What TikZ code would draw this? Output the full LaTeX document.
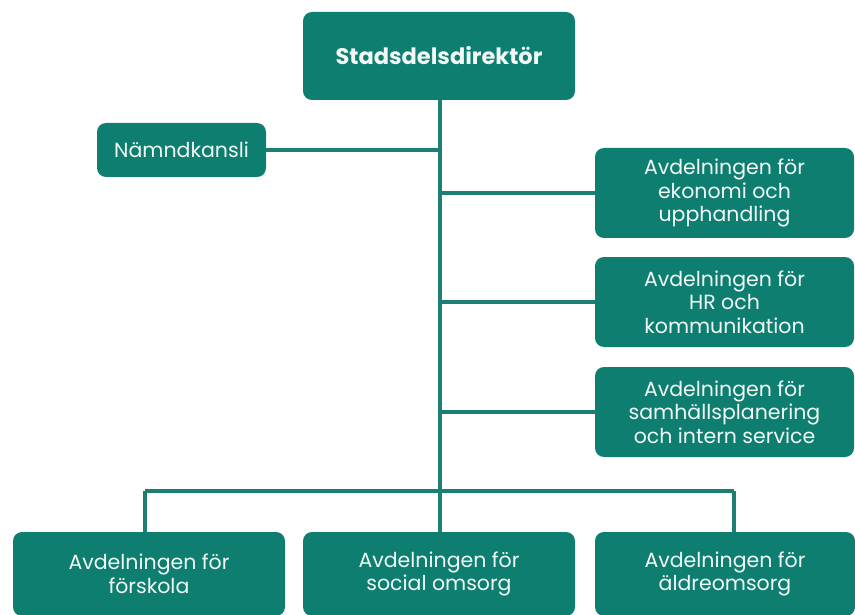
\documentclass[tikz,border=0pt]{standalone}
\usepackage{fontspec}
\setmainfont{Poppins}
\definecolor{boxteal}{HTML}{0E7E70}
\definecolor{lineteal}{HTML}{1B7F73}
\definecolor{txt}{HTML}{F2F8F6}
\begin{document}
\begin{tikzpicture}[x=1pt,y=-1pt,
  orgbox/.style={rectangle, rounded corners=9pt, fill=boxteal, text=txt, align=center,
    font=\fontsize{20.5}{23.5}\selectfont, inner sep=0pt},
  conn/.style={draw=lineteal, line width=3.2pt}]
\useasboundingbox (0,0) rectangle (855,615);
\node[orgbox, minimum width=272pt, minimum height=88pt, font=\fontsize{22.5}{26}\selectfont\bfseries] (top) at (439,56) {Stadsdelsdirektör};
\node[orgbox, minimum width=169pt, minimum height=54pt] (namnd) at (181.5,150) {Nämndkansli};
\node[orgbox, minimum width=259pt, minimum height=90pt] (r1) at (724.5,193) {Avdelningen för\\ekonomi och\\upphandling};
\node[orgbox, minimum width=259pt, minimum height=90pt] (r2) at (724.5,302) {Avdelningen för\\HR och\\kommunikation};
\node[orgbox, minimum width=259pt, minimum height=90pt] (r3) at (724.5,412) {Avdelningen för\\samhällsplanering\\och intern service};
\node[orgbox, minimum width=272pt, minimum height=84pt] (b1) at (149,574) {Avdelningen för\\förskola};
\node[orgbox, minimum width=272pt, minimum height=84pt] (b2) at (439,574) {Avdelningen för\\social omsorg};
\node[orgbox, minimum width=260pt, minimum height=84pt] (b3) at (725,574) {Avdelningen för\\äldreomsorg};
\coordinate (cL) at (145,491);
\coordinate (cM) at (440,491);
\coordinate (cR) at (734,491);
\begin{scope}[on background layer/.try]
\draw[conn] (top.south -| cM) -- (b2.north -| cM);
\draw[conn] (namnd.east) -- (namnd.east -| cM);
\draw[conn] (r1.west) -- (r1.west -| cM);
\draw[conn] (r2.west) -- (r2.west -| cM);
\draw[conn] (r3.west) -- (r3.west -| cM);
\draw[conn] (cL) -- (cR);
\draw[conn] (cL) -- (cL |- b1.north);
\draw[conn] (cR) -- (cR |- b3.north);
\end{scope}
\end{tikzpicture}
\end{document}
